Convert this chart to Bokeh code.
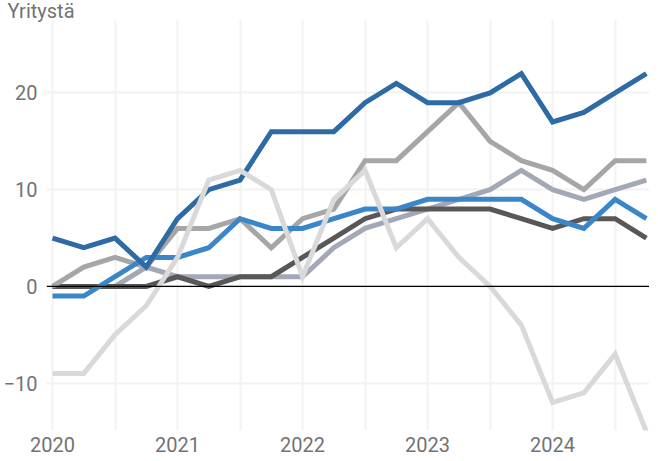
from bokeh.plotting import figure
from bokeh.models import Range1d, FixedTicker, Span
from bokeh.embed import file_html
from bokeh.resources import INLINE

# Quarterly data 2020Q1 .. 2024Q4
quarters = [2020 + i * 0.25 for i in range(20)]

series_darkblue = [5, 4, 5, 2, 7, 10, 11, 16, 16, 16, 19, 21, 19, 19, 20, 22, 17, 18, 20, 22]
series_gray = [0, 2, 3, 2, 6, 6, 7, 4, 7, 8, 13, 13, 16, 19, 15, 13, 12, 10, 13, 13]
series_blue = [-1, -1, 1, 3, 3, 4, 7, 6, 6, 7, 8, 8, 9, 9, 9, 9, 7, 6, 9, 7]
series_grayblue = [0, 0, 0, 2, 1, 1, 1, 1, 1, 4, 6, 7, 8, 9, 10, 12, 10, 9, 10, 11]
series_darkgray = [0, 0, 0, 0, 1, 0, 1, 1, 3, 5, 7, 8, 8, 8, 8, 7, 6, 7, 7, 5]
series_lightgray = [-9, -9, -5, -2, 3, 11, 12, 10, 1, 9, 12, 4, 7, 3, 0, -4, -12, -11, -7, -15]

year_ticks = [2020, 2021, 2022, 2023, 2024]
grid_ticks = [2020 + 0.5 * i for i in range(10)]
y_ticks = [-10, 0, 10, 20]
y_label = "Yritystä"

FONT = "Roboto"
TXT = "#737373"
FH = 411

p = figure(frame_width=603, frame_height=FH, output_backend="svg", toolbar_location=None,
           x_range=Range1d(2019.952, 2024.775), y_range=Range1d(-14.9, 27.6),
           min_border_left=39, min_border_right=0, min_border_top=0, min_border_bottom=26)
p.outline_line_color = None
p.background_fill_color = "white"

p.title.text = y_label
p.title.align = "left"
p.title.offset = -39
p.title.standoff = -7
p.title.text_font = FONT
p.title.text_font_size = "20px"
p.title.text_font_style = "normal"
p.title.text_color = TXT

for ax in (p.xaxis[0], p.yaxis[0]):
    ax.axis_line_color = None
    ax.major_tick_line_color = None
    ax.minor_tick_line_color = None
    ax.major_tick_out = 0
    ax.major_tick_in = 0
    ax.major_label_text_font = FONT
    ax.major_label_text_font_size = "20px"
    ax.major_label_text_color = TXT
p.xaxis[0].ticker = FixedTicker(ticks=year_ticks)
p.xaxis[0].major_label_standoff = 6
p.yaxis[0].ticker = FixedTicker(ticks=y_ticks)
p.yaxis[0].major_label_standoff = 9

p.xgrid[0].ticker = FixedTicker(ticks=grid_ticks)
p.ygrid[0].ticker = FixedTicker(ticks=y_ticks)
p.xgrid[0].grid_line_color = "#f2f2f2"
p.ygrid[0].grid_line_color = "#f2f2f2"
p.xgrid[0].grid_line_width = 2
p.ygrid[0].grid_line_width = 2

p.add_layout(Span(location=0, dimension="width", line_color="black", line_width=1.2))

lines = [
    (series_grayblue, "#a2a8b6"),
    (series_darkgray, "#585858"),
    (series_gray, "#a6a6a6"),
    (series_blue, "#3a86c9"),
    (series_darkblue, "#2e6ba5"),
    (series_lightgray, "#d9d9d9"),
]
for ys, c in lines:
    p.line(quarters, ys, line_color=c, line_width=5, line_join="miter")

open("out.html", "w").write(file_html(p, INLINE))
